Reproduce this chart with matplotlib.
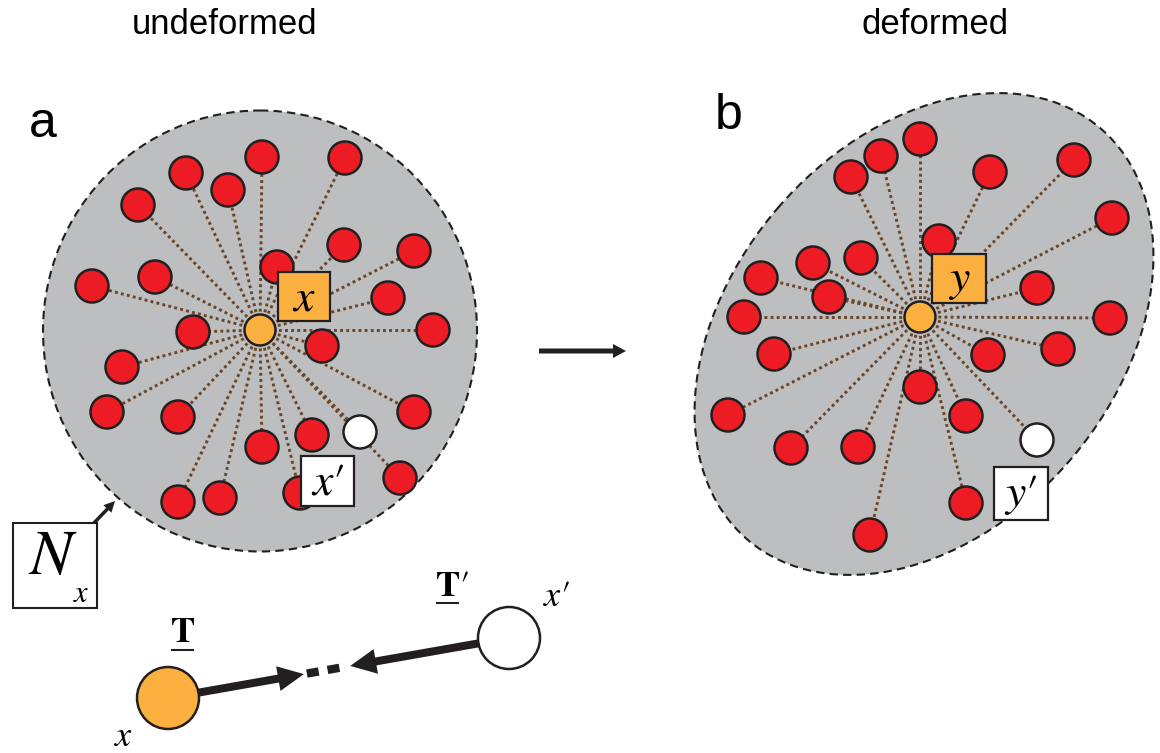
import matplotlib.pyplot as plt
from matplotlib.patches import Circle, Ellipse, Rectangle, FancyArrow
import numpy as np

plt.rcParams['mathtext.fontset'] = 'stix'

# panel a (undeformed) - neighbour positions in pixel space
a_center = (260, 330)
a_red_x = [262, 345, 186, 228, 138, 344, 414, 277, 155, 92, 388, 193, 433, 322,
           122, 107, 178, 414, 262, 312, 400, 178, 220, 300]
a_red_y = [157, 158, 173, 190, 205, 245, 251, 267, 277, 286, 298, 332, 330, 346,
           367, 412, 417, 412, 447, 435, 478, 502, 498, 493]
a_white = (360, 432)

# panel b (deformed)
b_center = (920, 317)
b_red_x = [920, 881, 851, 990, 1074, 1112, 939, 861, 813, 761, 829, 1037, 744, 1110,
           774, 988, 1058, 920, 728, 966, 791, 858, 966, 870]
b_red_y = [139, 156, 177, 172, 160, 218, 241, 258, 263, 278, 297, 288, 317, 318,
           354, 355, 349, 387, 415, 416, 448, 447, 503, 535]
b_white = (1037, 440)

RED = "#ED1C24"
ORANGE = "#FBB040"
GRAY = "#BCBEC0"
EDGE = "#231F20"
BROWN = "#6B4626"
R = 16.5
SERIF = "STIXGeneral"

fig = plt.figure(figsize=(11.6, 7.53), dpi=100)
ax = fig.add_axes([0, 0, 1, 1])
ax.set_xlim(0, 1160)
ax.set_ylim(753, 0)
ax.axis("off")


def node(xy, color, r=R, z=4):
    ax.add_patch(Circle(xy, r, facecolor=color, edgecolor=EDGE, lw=1.8, zorder=z))


def star(center, xs, ys, white):
    for x, y in list(zip(xs, ys)) + [white]:
        ax.plot([center[0], x], [center[1], y], color=BROWN, lw=2.1,
                linestyle=(0, (1, 1.1)), zorder=2)
    for x, y in zip(xs, ys):
        node((x, y), RED)
    node(white, "white")
    node(center, ORANGE, r=15.5, z=5)


def label_box(x0, y0, x1, y1, txt, fc):
    ax.add_patch(Rectangle((x0, y0), x1 - x0, y1 - y0, facecolor=fc,
                           edgecolor=EDGE, lw=1.6, zorder=6))
    ax.text((x0 + x1) / 2, (y0 + y1) / 2 + 1, txt, ha="center", va="center",
            fontsize=33, zorder=7)


# neighbourhoods
ax.add_patch(Ellipse((260, 331), 434, 441, facecolor=GRAY, edgecolor=EDGE,
                     lw=1.5, linestyle=(0, (4, 2.5)), zorder=1))
ax.add_patch(Ellipse((924, 334), 542, 386, angle=-49.3, facecolor=GRAY,
                     edgecolor=EDGE, lw=1.5, linestyle=(0, (4, 2.5)), zorder=1))

star(a_center, a_red_x, a_red_y, a_white)
star(b_center, b_red_x, b_red_y, b_white)

label_box(278, 272, 330, 321, r"$x$", ORANGE)
label_box(301, 456, 354, 506, r"$x\prime$", "white")
label_box(932, 254, 986, 303, r"$y$", ORANGE)
label_box(994, 467, 1048, 520, r"$y\prime$", "white")

# titles and panel letters
ax.text(225, 24, "undeformed", ha="center", va="center", fontsize=25,
        family="Liberation Sans")
ax.text(935, 24, "deformed", ha="center", va="center", fontsize=25,
        family="Liberation Sans")
ax.text(43, 124, "a", ha="center", va="center", fontsize=36, family="Liberation Sans")
ax.text(729, 116, "b", ha="center", va="center", fontsize=36, family="Liberation Sans")

# deformation arrow
ax.add_patch(FancyArrow(539, 351, 87, 0, width=5, head_width=14, head_length=13,
                        length_includes_head=True, color=EDGE, lw=0))

# N_x box
ax.add_patch(Rectangle((13, 523), 84, 85, facecolor="white", edgecolor=EDGE,
                       lw=1.5, zorder=6))
ax.text(53, 556, "$N$", ha="center", va="center", fontsize=46, zorder=7)
ax.text(81, 593, "$x$", ha="center", va="center", fontsize=22, zorder=7)
ax.add_patch(FancyArrow(94, 523, 21, -22, width=3.5, head_width=11, head_length=11,
                        length_includes_head=True, color=EDGE, lw=0, zorder=6))

# bond pair at the bottom
p0 = np.array([168, 698])
p1 = np.array([509, 638])
u = (p1 - p0) / np.linalg.norm(p1 - p0)
rb = 31
s = p0 + u * rb
e = p0 + u * 138
ax.add_patch(FancyArrow(s[0], s[1], *(e - s), width=8, head_width=25, head_length=26,
                        length_includes_head=True, color=EDGE, lw=0, zorder=3))
s = p1 - u * rb
e = p0 + u * 185
ax.add_patch(FancyArrow(s[0], s[1], *(e - s), width=8, head_width=25, head_length=26,
                        length_includes_head=True, color=EDGE, lw=0, zorder=3))
for t0, t1 in [(141, 153), (162, 174)]:
    q0 = p0 + u * t0
    q1 = p0 + u * t1
    ax.plot([q0[0], q1[0]], [q0[1], q1[1]], color=EDGE, lw=6,
            solid_capstyle="butt", zorder=3)
node(p0, ORANGE, r=rb)
node(p1, "white", r=rb)

ax.text(182, 632, r"$\mathbf{T}$", ha="center", va="center", fontsize=26)
ax.plot([172, 193], [650, 650], color=EDGE, lw=1.5)
ax.text(452, 586, r"$\mathbf{T}\prime$", ha="center", va="center", fontsize=26)
ax.plot([437, 458], [603, 603], color=EDGE, lw=1.5)
ax.text(124, 736, "$x$", ha="center", va="center", fontsize=26)
ax.text(556, 596, r"$x\prime$", ha="center", va="center", fontsize=26)

fig.savefig("out.png", dpi=100)
